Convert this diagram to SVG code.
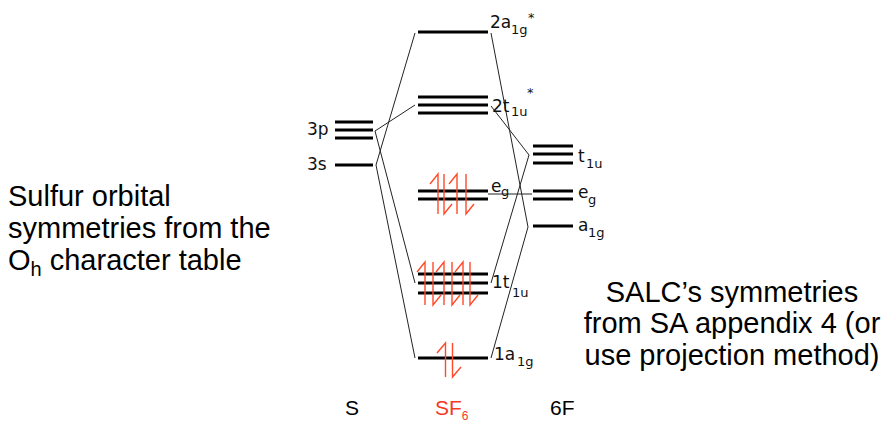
<svg xmlns="http://www.w3.org/2000/svg" width="887" height="424" viewBox="0 0 887 424">
<style>
.lvl{stroke:#000;stroke-width:3;fill:none}
.con{stroke:#222;stroke-width:1;fill:none}
.e{stroke:#ff4a2a;stroke-width:1.4;fill:none}
.lb{font-family:"DejaVu Sans",sans-serif;font-size:17px;fill:#111}
.sb{font-family:"DejaVu Sans",sans-serif;font-size:13px;fill:#111}
.big{font-family:"Liberation Sans",Arial,sans-serif;font-size:29px;fill:#000}
.ax{font-family:"Liberation Sans",Arial,sans-serif;font-size:21px;fill:#000}
</style>
<rect width="887" height="424" fill="#fff"/>
<g id="connectors">
<line class="con" x1="415" y1="33" x2="376" y2="165"/>
<line class="con" x1="376" y1="165" x2="415" y2="358"/>
<line class="con" x1="375" y1="131" x2="415" y2="105"/>
<line class="con" x1="375" y1="131" x2="415" y2="283"/>
<line class="con" x1="491" y1="33" x2="528" y2="227"/>
<line class="con" x1="491" y1="106" x2="529" y2="155"/>
<line class="con" x1="529" y1="155" x2="491" y2="283"/>
<line class="con" x1="528" y1="227" x2="491" y2="358"/>
<line class="con" x1="488" y1="194" x2="532" y2="194"/>
</g>
<g id="S-3p">
<line class="lvl" x1="335" y1="122" x2="373" y2="122"/>
<line class="lvl" x1="335" y1="130" x2="373" y2="130"/>
<line class="lvl" x1="335" y1="138" x2="373" y2="138"/>
<text class="lb" x="307" y="135">3p</text>
</g>
<g id="S-3s">
<line class="lvl" x1="335" y1="165" x2="373" y2="165"/>
<text class="lb" x="307" y="170">3s</text>
</g>
<g id="MO-2a1g">
<line class="lvl" x1="418" y1="32" x2="488" y2="32"/>
<text class="lb" x="490" y="28">2a</text>
<text class="sb" x="511" y="34">1g</text>
<text class="sb" x="528" y="22">*</text>
</g>
<g id="MO-2t1u">
<line class="lvl" x1="418" y1="97" x2="488" y2="97"/>
<line class="lvl" x1="418" y1="105" x2="488" y2="105"/>
<line class="lvl" x1="418" y1="113" x2="488" y2="113"/>
<text class="lb" x="492" y="112">2t</text>
<text class="sb" x="511" y="116">1u</text>
<text class="sb" x="527" y="97">*</text>
</g>
<g id="MO-eg">
<line class="lvl" x1="418" y1="191" x2="488" y2="191"/>
<line class="lvl" x1="418" y1="199" x2="488" y2="199"/>
<path class="e" d="M438 214V174L430 184M444 174V214L452 204M457 214V174L449 184M466 174V214L474 204"/>
<text class="lb" x="491" y="192">e</text>
<text class="sb" x="501" y="196">g</text>
</g>
<g id="MO-1t1u">
<line class="lvl" x1="418" y1="274" x2="488" y2="274"/>
<line class="lvl" x1="418" y1="283" x2="488" y2="283"/>
<line class="lvl" x1="418" y1="293" x2="488" y2="293"/>
<path class="e" d="M425 305V262L417 272M433 262V305L441 295M444 305V262L436 272M452 262V305L460 295M463 305V262L455 272M470 262V305L478 295"/>
<text class="lb" x="492" y="288">1t</text>
<text class="sb" x="512" y="297">1u</text>
</g>
<g id="MO-1a1g">
<line class="lvl" x1="418" y1="358" x2="488" y2="358"/>
<path class="e" d="M445.5 377V343L437 353M452.5 343V377L461 367"/>
<text class="lb" x="494" y="360">1a</text>
<text class="sb" x="517" y="366">1g</text>
</g>
<g id="F-t1u">
<line class="lvl" x1="533" y1="146" x2="573" y2="146"/>
<line class="lvl" x1="533" y1="154" x2="573" y2="154"/>
<line class="lvl" x1="533" y1="163" x2="573" y2="163"/>
<text class="lb" x="578" y="162">t</text>
<text class="sb" x="586" y="168">1u</text>
</g>
<g id="F-eg">
<line class="lvl" x1="533" y1="191" x2="573" y2="191"/>
<line class="lvl" x1="533" y1="199" x2="573" y2="199"/>
<text class="lb" x="578" y="198">e</text>
<text class="sb" x="588" y="204">g</text>
</g>
<g id="F-a1g">
<line class="lvl" x1="533" y1="226" x2="573" y2="226"/>
<text class="lb" x="578" y="231">a</text>
<text class="sb" x="588" y="237">1g</text>
</g>
<g id="axis-labels">
<text class="ax" x="345" y="415">S</text>
<text class="ax" x="435" y="415" style="fill:#f53a1f">SF<tspan font-size="12" y="420">6</tspan></text>
<text class="ax" x="550" y="415">6F</text>
</g>
<g id="left-note">
<text class="big" x="8" y="206">Sulfur orbital</text>
<text class="big" x="8" y="238">symmetries from the</text>
<text class="big" x="8" y="270">O<tspan font-size="20" y="276">h</tspan><tspan y="270"> character table</tspan></text>
</g>
<g id="right-note">
<text class="big" x="732" y="302" text-anchor="middle">SALC’s symmetries</text>
<text class="big" x="732" y="333" text-anchor="middle">from SA appendix 4 (or</text>
<text class="big" x="732" y="365" text-anchor="middle">use projection method)</text>
</g>
</svg>
